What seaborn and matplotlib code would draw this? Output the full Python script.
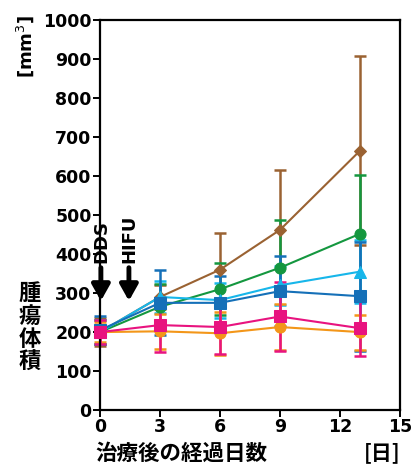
import pandas as pd
import matplotlib.pyplot as plt
import seaborn as sns

# days after treatment
days = [0, 3, 6, 9, 13]

# mean tumour volume [mm3] and error per group
brown_mean = [200, 290, 360, 462, 665]
brown_err = [35, 30, 95, 153, 243]
green_mean = [200, 265, 310, 365, 452]
green_err = [30, 58, 67, 122, 150]
cyan_mean = [200, 290, 282, 320, 355]
cyan_err = [30, 40, 45, 50, 80]
blue_mean = [205, 275, 275, 305, 292]
blue_err = [35, 83, 70, 90, 140]
orange_mean = [200, 202, 197, 213, 200]
orange_err = [25, 45, 55, 58, 45]
pink_mean = [200, 218, 213, 240, 210]
pink_err = [30, 68, 70, 88, 72]

groups = ['brown', 'green', 'cyan', 'blue', 'orange', 'pink']
means = [brown_mean, green_mean, cyan_mean, blue_mean, orange_mean, pink_mean]
errs = [brown_err, green_err, cyan_err, blue_err, orange_err, pink_err]
colors = ['#9a6232', '#14973f', '#17b6ea', '#1570b8', '#f39619', '#e8137f']
markers = ['D', 'o', '^', 's', 'o', 's']
msizes = [6, 8, 8, 8, 8, 8]

rows = []
for g, m, e in zip(groups, means, errs):
    for d, v, s in zip(days, m, e):
        rows.append({'group': g, 'day': d, 'vol': v, 'err': s})
df = pd.DataFrame(rows)

sns.set_theme(style="white")
plt.rcParams['font.family'] = ['DejaVu Sans', 'Noto Sans CJK JP']
plt.rcParams['text.color'] = 'black'
plt.rcParams['xtick.color'] = 'black'
plt.rcParams['ytick.color'] = 'black'

fig = plt.figure(figsize=(4.18, 4.65), dpi=100)
ax = fig.add_axes([0.239, 0.118, 0.718, 0.839])

for g, c, mk, ms in zip(groups, colors, markers, msizes):
    sub = df[df['group'] == g]
    eb = ax.errorbar(sub['day'], sub['vol'], yerr=sub['err'], fmt='none',
                     ecolor=c, elinewidth=1.8, capsize=4, capthick=1.8, zorder=2)
    for art in eb.lines[1] + eb.lines[2]:
        art.set_clip_on(False)
    sns.lineplot(data=sub, x='day', y='vol', color=c, marker=mk,
                 markersize=ms, markeredgecolor=c, linewidth=1.5, ax=ax,
                 zorder=3, clip_on=False)

ax.set_xlim(0, 15)
ax.set_ylim(0, 1000)
ax.set_xticks([0, 3, 6, 9, 12, 15])
ax.set_yticks(range(0, 1001, 100))
for sp in ax.spines.values():
    sp.set_color('black')
    sp.set_linewidth(1.6)
ax.tick_params(axis='both', direction='out', length=5, width=1.4,
               color='black', labelcolor='black', labelsize=12.5, pad=1,
               bottom=True, left=True)
for lab in ax.get_xticklabels() + ax.get_yticklabels():
    lab.set_fontweight('semibold')
ax.set_xlabel('')
ax.set_ylabel('')

# treatment annotations
ax.text(0.05, 378, 'DDS', rotation=90, ha='center', va='bottom',
        fontsize=13, fontweight='bold')
ax.text(1.45, 378, 'HIFU', rotation=90, ha='center', va='bottom',
        fontsize=13, fontweight='bold')
for xa in [0.05, 1.45]:
    ax.annotate('', xy=(xa, 280), xytext=(xa, 365),
                arrowprops=dict(arrowstyle='-|>,head_width=0.45,head_length=0.8',
                                color='black', lw=3.5, shrinkA=0, shrinkB=0))

jp = ['Noto Sans CJK JP', 'DejaVu Sans']
fig.text(0.06, 0.9, '[mm$^3$]', rotation=90, ha='center', va='center',
         fontsize=13, fontweight='bold')
fig.text(0.072, 0.295, '腫\n瘍\n体\n積', ha='center', va='center',
         fontsize=16, fontweight='bold', linespacing=1.0, family=jp)
fig.text(0.435, 0.026, '治療後の経過日数', ha='center', va='center',
         fontsize=15.5, fontweight='bold', family=jp)
fig.text(0.915, 0.026, '[日]', ha='center', va='center',
         fontsize=15, fontweight='bold', family=jp)

fig.savefig('out.png', dpi=100)
